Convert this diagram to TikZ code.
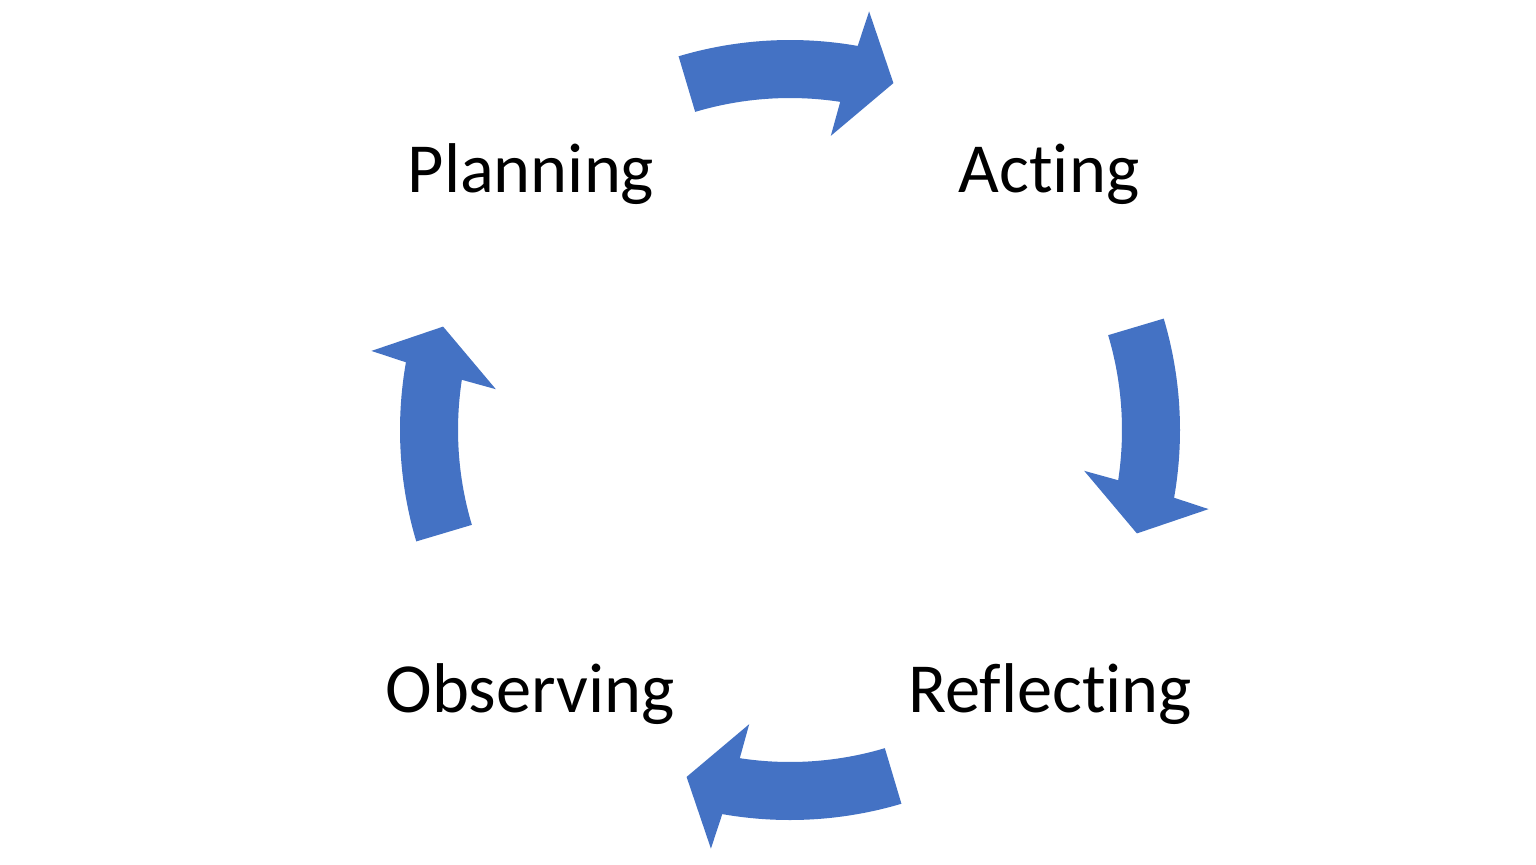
\documentclass[tikz,border=0pt]{standalone}
\usepackage{fontspec}
\setmainfont[Ligatures={NoCommon}]{Carlito}
\definecolor{arrowblue}{HTML}{4472C4}
\begin{document}
\begin{tikzpicture}[x=0.5pt,y=0.5pt,
  label/.style={anchor=base,inner sep=0pt,font=\fontsize{35.2}{42}\selectfont},
  cyclearrow/.style={fill=arrowblue,draw=none}]
\fill[white] (0,0) rectangle (1536,-864);
\useasboundingbox (0,0) rectangle (1536,-864);
\coordinate (C) at (790,-430);
\begin{scope}[shift={(C)}]
\foreach \t in {90,0,-90,180}{
  \fill[cyclearrow] ({\t+16.6}:390) arc[start angle={\t+16.6}, end angle={\t-10}, radius=390]
    -- ({\t-10.7}:426) -- ({\t-16.6}:362) -- ({\t-7.9}:297) -- ({\t-8.7}:332)
    arc[start angle={\t-8.7}, end angle={\t+16.6}, radius=332] -- cycle;
}
\end{scope}
\node[label] (plan) at (531,-192) {Planning};
\node[label] (act) at (1049,-192) {Acting};
\node[label] (refl) at (1050,-712) {Reflecting};
\node[label] (obs) at (530,-712) {Observing};
\end{tikzpicture}
\end{document}
